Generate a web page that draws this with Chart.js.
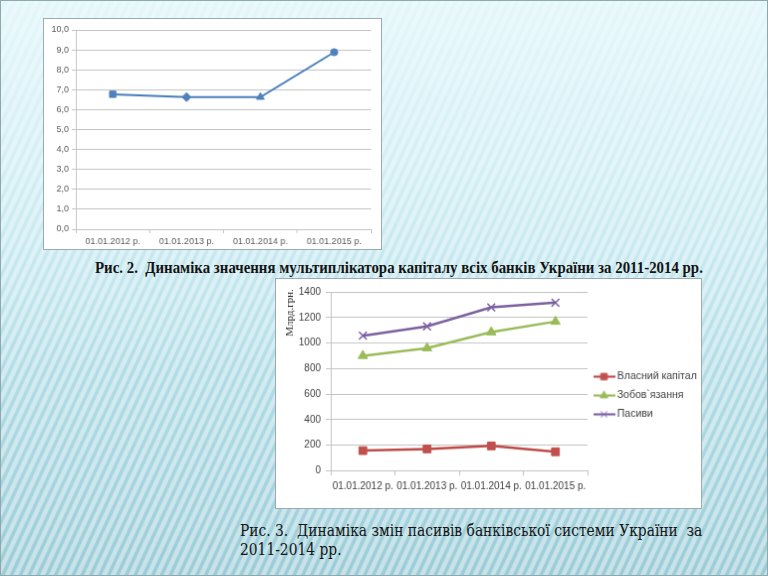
<!DOCTYPE html>
<html>
<head>
<meta charset="utf-8">
<script src="https://cdn.jsdelivr.net/npm/chart.js@4.4.1/dist/chart.umd.min.js"></script>
<style>
  html, body { margin: 0; padding: 0; }
  body {
    width: 768px; height: 576px; overflow: hidden; position: relative;
    background:
      linear-gradient(180deg, rgba(234,249,252,0.85) 0%, rgba(228,246,250,0.55) 30%, rgba(205,236,243,0.15) 65%, rgba(170,214,224,0) 100%),
      repeating-linear-gradient(115deg, rgba(255,255,255,0.38) 0px, rgba(255,255,255,0.38) 3px, rgba(110,175,195,0.14) 4.5px, rgba(110,175,195,0.14) 6.5px, rgba(255,255,255,0.38) 8px),
      linear-gradient(180deg, #d8f2f8 0%, #c8eaf1 40%, #b2dce5 75%, #a4d1db 100%);
  }
  .frame { position: absolute; left: 0; top: 0; width: 766px; height: 574px; border: 1px solid #8ea8ad; }
  canvas.box { position: absolute; background: #fff; border: 1px solid #9babb3; }
  .cap { position: absolute; white-space: nowrap; transform-origin: 0 50%; color: #141414; }
  #cap1 { left: 95px; top: 259px; font: bold 16px "Liberation Serif", "Times New Roman", serif; line-height: 18px; }
  #cap2a, #cap2b { left: 240px; font: 17px "DejaVu Serif", "Liberation Serif", serif; line-height: 20px; }
  #cap2a { top: 520px; }
  #cap2b { top: 539px; }
</style>
</head>
<body>
<div class="frame"></div>
<canvas id="c1" class="box" width="339" height="232" style="left:43px;top:18px"></canvas>
<canvas id="c2" class="box" width="427" height="231" style="left:275px;top:278px"></canvas>
<div id="cap1" class="cap">Рис. 2.&nbsp; Динаміка значення мультиплікатора капіталу всіх банків України за 2011-2014 рр.</div>
<div id="cap2a" class="cap">Рис. 3.&nbsp; Динаміка змін пасивів банківської системи України&nbsp; за</div>
<div id="cap2b" class="cap">2011-2014 рр.</div>
<script>
// --- data ---
const dates = ['01.01.2012 р.', '01.01.2013 р.', '01.01.2014 р.', '01.01.2015 р.'];

// fig. 2: capital multiplier
const multiplier = [6.77, 6.63, 6.63, 8.88];
const multiplierMarkers = ['rect', 'rectRot', 'triangle', 'circle'];
const multiplierTicks = [0, 1, 2, 3, 4, 5, 6, 7, 8, 9, 10];

// fig. 3: liabilities structure, bn UAH
const seriesNames = ['Власний капітал', 'Зобов`язання', 'Пасиви'];
const equity = [157, 170, 194, 148];
const liabilities = [900, 960, 1085, 1168];
const totalPassive = [1057, 1130, 1279, 1316];
const passiveTicks = [0, 200, 400, 600, 800, 1000, 1200, 1400];
const passiveAxisTitle = 'Млрд.грн.';

const SANS = "'Liberation Sans', Arial, sans-serif";
const GRID = '#c4c4c4';

// ---------- chart 1 ----------
new Chart(document.getElementById('c1'), {
  type: 'line',
  data: {
    labels: dates,
    datasets: [{
      data: multiplier,
      borderColor: '#4a7ebb',
      backgroundColor: '#4f81bd',
      borderWidth: 2,
      tension: 0,
      pointStyle: multiplierMarkers,
      pointRadius: [4.5, 4.5, 4.5, 3.6],
      pointBackgroundColor: '#4f81bd',
      pointBorderColor: '#4f81bd',
      pointBorderWidth: 1
    }]
  },
  options: {
    responsive: false,
    animation: false,
    layout: { padding: { top: 11, right: 10, bottom: 0, left: 0 } },
    plugins: { legend: { display: false }, tooltip: { enabled: false } },
    scales: {
      x: {
        offset: true,
        grid: { offset: true, drawOnChartArea: false, drawTicks: true, tickLength: 4, color: GRID },
        border: { display: true, color: GRID },
        ticks: { font: { family: SANS, size: 9 }, color: '#595959', maxRotation: 0, autoSkip: false, padding: 3 },
        afterFit: s => { s.height = 20; }
      },
      y: {
        min: multiplierTicks[0],
        max: multiplierTicks[multiplierTicks.length - 1],
        grid: { color: GRID, tickLength: 4 },
        border: { display: true, color: GRID },
        ticks: {
          stepSize: multiplierTicks[1] - multiplierTicks[0],
          font: { family: SANS, size: 9 }, color: '#595959', padding: 3,
          callback: v => v.toFixed(1).replace('.', ',')
        },
        afterFit: s => { s.width = 32; }
      }
    }
  }
});

// ---------- chart 2 ----------
const colors = [
  { line: '#be4b48', fill: '#c0504d', marker: 'rect', r: 5.5 },
  { line: '#9bbb59', fill: '#9bbb59', marker: 'triangle', r: 5.5 },
  { line: '#7d60a0', fill: '#7d60a0', marker: 'crossRot', r: 5.5 }
];

function legendIcon(c) {
  const cv = document.createElement('canvas');
  cv.width = 22; cv.height = 12;
  const ctx = cv.getContext('2d');
  ctx.strokeStyle = c.line;
  ctx.lineWidth = 2.2;
  ctx.beginPath(); ctx.moveTo(0, 6); ctx.lineTo(22, 6); ctx.stroke();
  ctx.fillStyle = c.fill;
  ctx.strokeStyle = c.fill;
  ctx.lineWidth = 1;
  Chart.helpers.drawPoint(ctx, { pointStyle: c.marker, radius: 4.5, rotation: 0, borderWidth: 1 }, 11, 6);
  return cv;
}

const yTitlePlugin = {
  id: 'yTitle',
  afterDraw(chart, args, opts) {
    const ctx = chart.ctx;
    ctx.save();
    ctx.translate(opts.x, opts.y);
    ctx.rotate(-Math.PI / 2);
    ctx.font = "11px 'Liberation Serif', serif";
    ctx.fillStyle = '#262626';
    ctx.textAlign = 'center';
    ctx.textBaseline = 'middle';
    ctx.fillText(opts.text, 0, 0);
    ctx.restore();
  }
};

const seriesValues = [equity, liabilities, totalPassive];
const chart2 = new Chart(document.getElementById('c2'), {
  type: 'line',
  data: {
    labels: dates,
    datasets: seriesValues.map((vals, i) => ({
      label: seriesNames[i],
      data: vals,
      borderColor: colors[i].line,
      backgroundColor: colors[i].fill,
      borderWidth: 2.5,
      tension: 0,
      pointStyle: colors[i].marker,
      pointRadius: colors[i].r,
      pointBackgroundColor: colors[i].fill,
      pointBorderColor: colors[i].fill,
      pointBorderWidth: i === 2 ? 1.5 : 1
    }))
  },
  plugins: [yTitlePlugin],
  options: {
    responsive: false,
    animation: false,
    layout: { padding: { top: 13, right: 0, bottom: 0, left: 0 } },
    plugins: {
      tooltip: { enabled: false },
      yTitle: { text: passiveAxisTitle, x: 14, y: 34 },
      legend: {
        position: 'right',
        align: 'center',
        labels: {
          font: { family: SANS, size: 10.5 },
          color: '#404040',
          usePointStyle: true,
          pointStyleWidth: 16,
          padding: 8.5,
          generateLabels: chart => chart.data.datasets.map((ds, i) => ({
            text: ds.label,
            pointStyle: legendIcon(colors[i]),
            fillStyle: colors[i].fill,
            strokeStyle: colors[i].line,
            lineWidth: 0,
            hidden: false,
            datasetIndex: i,
            fontColor: '#404040'
          }))
        }
      }
    },
    scales: {
      x: {
        offset: true,
        grid: { offset: true, drawOnChartArea: false, drawTicks: true, tickLength: 5, color: GRID },
        border: { display: true, color: GRID },
        ticks: { font: { family: SANS, size: 10 }, color: '#404040', maxRotation: 0, autoSkip: false, padding: 5 },
        afterFit: s => { s.height = 37.7; }
      },
      y: {
        min: passiveTicks[0],
        max: passiveTicks[passiveTicks.length - 1],
        grid: { color: GRID, tickLength: 5 },
        border: { display: true, color: GRID },
        ticks: {
          stepSize: passiveTicks[1] - passiveTicks[0],
          font: { family: SANS, size: 10 }, color: '#404040', padding: 5,
          callback: v => String(v)
        },
        afterFit: s => { s.width = 55; }
      }
    }
  }
});

// legend column is a fixed width in the original, so pin it
// (and it sits a few px above the middle of the frame)
const lg = chart2.legend;
const origFit = lg.fit.bind(lg);
lg.fit = function () { origFit(); this.width = 114; };
const origDraw = lg.draw.bind(lg);
lg.draw = function () {
  const ctx = this.ctx;
  ctx.save();
  ctx.translate(0, -4.5);
  origDraw();
  ctx.restore();
};
chart2.update();

// fit captions to the widths they take in the slide
function fitWidth(ids, target) {
  const first = document.getElementById(ids[0]);
  const k = target / first.scrollWidth;
  ids.forEach(id => { document.getElementById(id).style.transform = 'scaleX(' + k + ')'; });
}
fitWidth(['cap1'], 608);
fitWidth(['cap2a', 'cap2b'], 462);
</script>
</body>
</html>
